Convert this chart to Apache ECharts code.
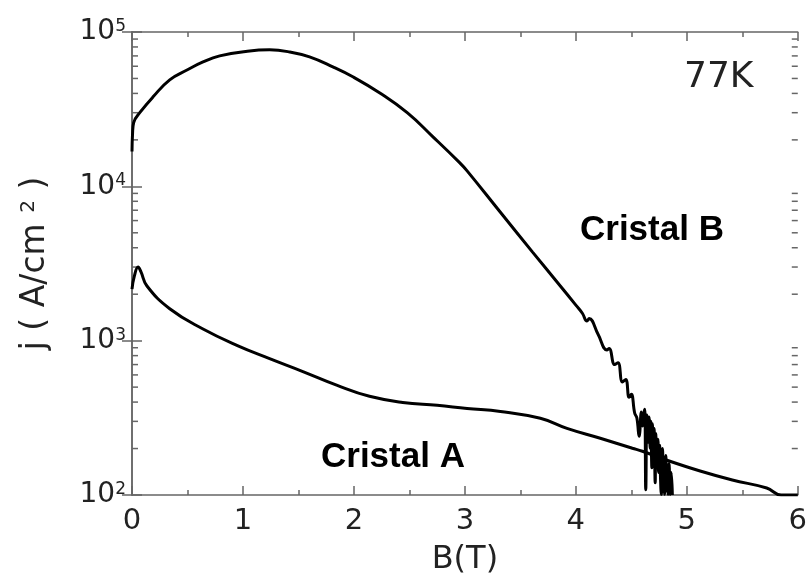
<!DOCTYPE html>
<html>
<head>
<meta charset="utf-8">
<script src="https://cdn.jsdelivr.net/npm/echarts@6/dist/echarts.min.js"></script>
<style>
  html, body { margin: 0; padding: 0; background: #fff; }
  #chart { width: 810px; height: 581px; }
</style>
</head>
<body>
<div id="chart"></div>
<script>
// Critical current density j(B) at 77K for two crystals, [B (T), j (A/cm^2)]
const crystalB = [
  [0, 16800], [0.005, 22000], [0.015, 25900], [0.07, 30000], [0.19, 38000],
  [0.34, 49000], [0.5, 56900], [0.64, 64000], [0.79, 70000], [1.04, 75000],
  [1.24, 76600], [1.42, 74300], [1.6, 69000], [1.81, 59500], [1.99, 51300],
  [2.23, 40400], [2.48, 30000], [2.71, 21000], [2.95, 14300], [3.02, 12600],
  [3.32, 6790], [3.61, 3750], [3.86, 2260], [4.0, 1700],
  [4.06, 1500], [4.1, 1340], [4.12, 1390], [4.2, 1100], [4.28, 870],
  [4.3, 890], [4.35, 700], [4.38, 720], [4.42, 540], [4.45, 560],
  [4.48, 430], [4.5, 450], [4.53, 340], [4.55, 315], [4.57, 240],
  [4.59, 345], [4.6, 280], [4.61, 330], [4.62, 360], [4.63, 108], [4.64, 330],
  [4.65, 220], [4.66, 320], [4.67, 200], [4.675, 300], [4.685, 150], [4.69, 290],
  [4.7, 180], [4.705, 270], [4.715, 120], [4.72, 250], [4.73, 170], [4.74, 230],
  [4.745, 140], [4.755, 210], [4.76, 150], [4.77, 101], [4.78, 200],
  [4.79, 130], [4.8, 101], [4.81, 180], [4.82, 120], [4.83, 101], [4.84, 160],
  [4.85, 101], [4.86, 140], [4.87, 100]
];

const crystalA = [
  [0, 2160], [0.02, 2600], [0.055, 3000], [0.08, 2800], [0.135, 2260],
  [0.34, 1610], [0.64, 1190], [0.95, 929], [1.24, 765], [1.54, 631],
  [1.85, 513], [2.14, 436], [2.44, 398], [2.75, 381], [3.02, 364],
  [3.32, 348], [3.68, 314], [3.92, 270], [4.22, 233], [4.51, 201],
  [4.6, 192], [4.82, 168], [5.12, 143], [5.41, 125], [5.72, 111],
  [5.85, 100], [6.0, 100]
];

// Minor tick positions on the logarithmic j axis
const yMinorTicks = [
  200, 300, 400, 500, 600, 700, 800, 900,
  2000, 3000, 4000, 5000, 6000, 7000, 8000, 9000,
  20000, 30000, 40000, 50000, 60000, 70000, 80000, 90000
];

const xRange = [0, 6];
const yRange = [100, 100000];

const chart = echarts.init(document.getElementById('chart'), null, { renderer: 'canvas' });

const frameColor = '#666';
const textColor = '#222';
const numFont = '"DejaVu Sans", Verdana, sans-serif';
const boldFont = '"Liberation Sans", Arial, Helvetica, sans-serif';

const powerLabel = v => '{b|10}{s|' + Math.round(Math.log10(v)) + '}';

const xAxisBase = {
  type: 'value',
  min: xRange[0], max: xRange[1], interval: 1,
  axisLine: { show: true, lineStyle: { color: frameColor, width: 1.5 } },
  axisTick: { show: true, inside: true, length: 9, lineStyle: { color: frameColor, width: 1.5 } },
  minorTick: { show: true, splitNumber: 2, length: 5, lineStyle: { color: frameColor, width: 1.5 } },
  splitLine: { show: false }
};

const yAxisBase = {
  type: 'log', logBase: 10,
  min: yRange[0], max: yRange[1],
  axisLine: { show: true, lineStyle: { color: frameColor, width: 1.5 } },
  axisTick: { show: true, inside: true, length: 10, lineStyle: { color: frameColor, width: 1.5 } },
  splitLine: { show: false }
};

chart.setOption({
  animation: false,
  backgroundColor: '#fff',
  grid: { left: 132, top: 32, right: 12, bottom: 84, containLabel: false },
  xAxis: [
    Object.assign({}, xAxisBase, {
      position: 'bottom',
      name: 'B(T)', nameLocation: 'middle', nameGap: 49,
      nameTextStyle: { fontFamily: numFont, fontSize: 32, color: textColor },
      axisLabel: { show: true, margin: 12, fontFamily: numFont, fontSize: 29, color: textColor }
    }),
    Object.assign({}, xAxisBase, { position: 'top', axisLabel: { show: false } })
  ],
  yAxis: [
    Object.assign({}, yAxisBase, {
      position: 'left',
      name: '{n|j ( A/cm }{s|2}{n| )}',
      nameLocation: 'middle', nameRotate: 90, nameGap: 80,
      nameTextStyle: {
        fontFamily: numFont, color: textColor,
        rich: {
          n: { fontFamily: numFont, fontSize: 33, color: textColor },
          s: { fontFamily: numFont, fontSize: 20, color: textColor, verticalAlign: 'top' }
        }
      },
      axisLabel: {
        show: true, margin: 6,
        formatter: powerLabel,
        rich: {
          b: { fontFamily: numFont, fontSize: 28, color: textColor },
          s: { fontFamily: numFont, fontSize: 17, color: textColor, verticalAlign: 'top' }
        }
      }
    }),
    Object.assign({}, yAxisBase, { position: 'right', axisLabel: { show: false } })
  ],
  series: [
    {
      name: 'Cristal B',
      type: 'line',
      data: crystalB,
      showSymbol: false,
      smooth: 0.45,
      clip: true,
      lineStyle: { color: '#000', width: 3 }
    },
    {
      name: 'Cristal A',
      type: 'line',
      data: crystalA,
      showSymbol: false,
      smooth: 0.45,
      clip: true,
      lineStyle: { color: '#000', width: 3 }
    },
    {
      // logarithmic minor ticks on the left and right frame edges
      name: 'minor ticks',
      type: 'custom',
      silent: true,
      clip: false,
      data: yMinorTicks.map(v => [0, v]),
      renderItem: function (params, api) {
        const y = api.coord([0, api.value(1)])[1];
        const cs = params.coordSys;
        const style = { stroke: frameColor, lineWidth: 1.5 };
        return {
          type: 'group',
          children: [
            { type: 'line', shape: { x1: cs.x, y1: y, x2: cs.x + 6, y2: y }, style: style },
            { type: 'line', shape: { x1: cs.x + cs.width, y1: y, x2: cs.x + cs.width - 6, y2: y }, style: style }
          ]
        };
      }
    }
  ],
  graphic: [
    {
      type: 'text', left: 684, top: 60,
      style: { text: '77K', fontFamily: numFont, fontSize: 36, fill: textColor }
    },
    {
      type: 'text', left: 580, top: 213,
      style: { text: 'Cristal B', fontFamily: boldFont, fontSize: 35, fontWeight: 'bold', fill: '#000' }
    },
    {
      type: 'text', left: 321, top: 440,
      style: { text: 'Cristal A', fontFamily: boldFont, fontSize: 35, fontWeight: 'bold', fill: '#000' }
    }
  ]
});
</script>
</body>
</html>
